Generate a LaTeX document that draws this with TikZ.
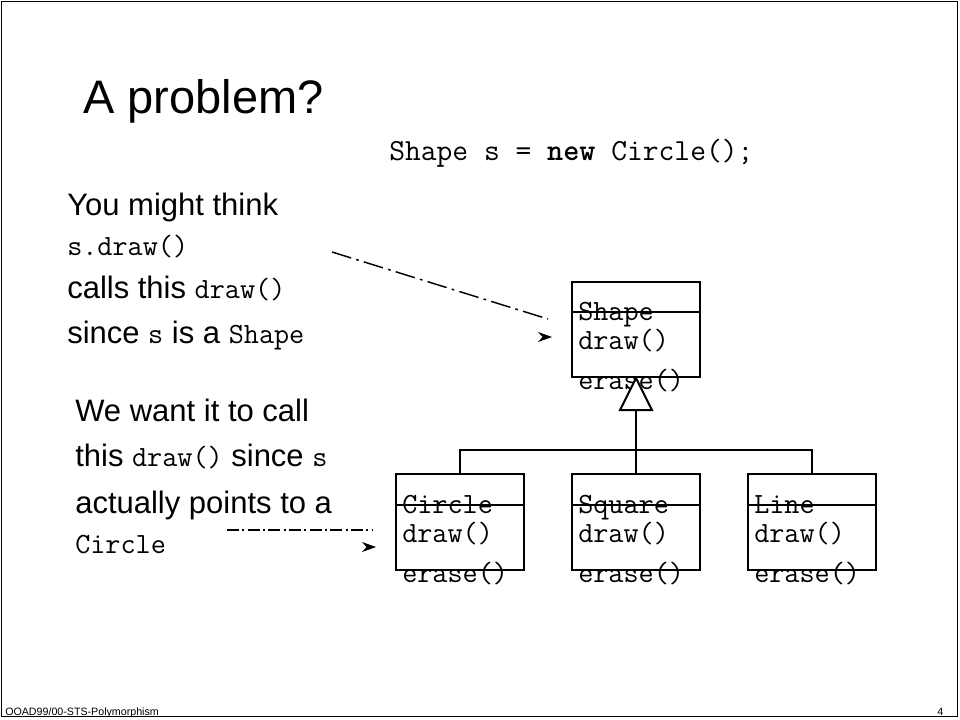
\documentclass[tikz,border=0pt]{standalone}
\usepackage{fontspec}
\setmainfont{Liberation Sans}
\usetikzlibrary{arrows.meta,calc}
\newcommand{\cf}{\ttfamily\fontsize{22pt}{26pt}\selectfont}
\begin{document}
\begin{tikzpicture}[x=0.75pt,y=-0.75pt,
  body/.style={anchor=base west, inner sep=0pt, font=\fontsize{23.25pt}{28pt}\selectfont},
  code/.style={anchor=base west, inner sep=0pt, font=\ttfamily\fontsize{22pt}{26pt}\selectfont},
  classbox/.style={draw, line width=1.5pt, minimum width=96pt, minimum height=71.5pt, inner sep=0pt},
  rel/.style={line width=1.5pt},
  dashA/.style={line width=1.1pt, dash pattern=on 15pt off 4pt on 2pt off 4pt},
  dashB/.style={line width=1.1pt, dash pattern=on 9pt off 2.5pt on 1.5pt off 2.5pt},
  tiphead/.style={-{Stealth[length=10.5pt,width=7.5pt]}, line width=0.8pt},
  small/.style={anchor=base west, inner sep=0pt, font=\fontsize{8pt}{10pt}\selectfont}
]
\useasboundingbox (0,0) rectangle (960,719);
% slide frame
\draw[line width=1.2pt] (1.5,1.5) rectangle (957.5,716.5);

% title and code
\node[anchor=base west, inner sep=0pt, font=\fontsize{35.25pt}{40pt}\selectfont] (title) at (83,113) {A problem?};
\node[anchor=base west, inner sep=0pt, font=\ttfamily\fontsize{23pt}{27pt}\selectfont] (decl) at (389,160) {Shape s = {\bfseries new} Circle();};

% left text group 1
\node[body] (t1) at (67,215) {You might think};
\node[code] (t2) at (67,255) {s.draw()};
\node[body] (t3) at (67,298) {calls this {\cf draw()}};
\node[body] (t4) at (67,343) {since {\cf s} is a {\cf Shape}};

% left text group 2
\node[body] (u1) at (75,421) {We want it to call};
\node[body] (u2) at (75,466) {this {\cf draw()} since {\cf s}};
\node[body] (u3) at (75,513) {actually points to a};
\node[code] (u4) at (75,553) {Circle};

% class boxes
\node[classbox] (cShape) at (636,329.5) {};
\node[classbox] (cCircle) at (460,522) {};
\node[classbox] (cSquare) at (636,522) {};
\node[classbox] (cLine) at (812,522) {};

\foreach \b/\n in {cShape/Shape, cCircle/Circle, cSquare/Square, cLine/Line}{
  \draw[line width=1.5pt] ($(\b.north west)+(0,31.5)$) -- ($(\b.north east)+(0,31.5)$);
  \node[code] (\b-name) at ($(\b.north west)+(7,40)$) {\n};
  \node[code] (\b-draw) at ($(\b.north west)+(7,69)$) {draw()};
  \node[code] (\b-erase) at ($(\b.north west)+(7,109)$) {erase()};
}

% inheritance
\coordinate (triBase) at ($(cShape.south)+(0,32)$);
\coordinate (bus) at ($(cShape.south)+(0,72)$);
\draw[rel, fill=white] (cShape.south) -- ($(triBase)+(16,0)$) -- ($(triBase)+(-16,0)$) -- cycle;
\draw[rel] (triBase) -- (bus);
\draw[rel] (cCircle.north) -- (cCircle.north |- bus) -- (cLine.north |- bus) -- (cLine.north);
\draw[rel] (cSquare.north) -- (cSquare.north |- bus);

% pointer 1
\coordinate (p1s) at (332,252);
\coordinate (p1e) at (548,319);
\coordinate (p1t) at (552,337);
\draw[dashA] (p1s) -- (p1e);
\draw[tiphead] ($(p1t)+(-2,0)$) -- (p1t);

% pointer 2
\coordinate (p2s) at (227,530);
\coordinate (p2e) at (372,530);
\coordinate (p2t) at (376,547);
\draw[dashB] (p2s) -- (p2e);
\draw[tiphead] ($(p2t)+(-2,0)$) -- (p2t);

% footer
\node[small] (foot) at (5,715) {OOAD99/00-STS-Polymorphism};
\node[small] (pnum) at (937,715) {4};
\end{tikzpicture}
\end{document}
